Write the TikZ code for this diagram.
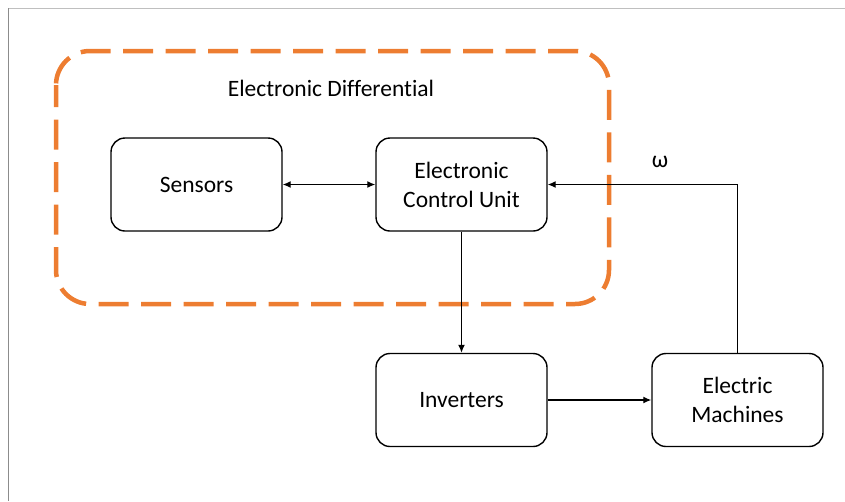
\documentclass[tikz,border=0pt]{standalone}
\usepackage{fontspec}
\setmainfont[Ligatures=NoCommon]{Carlito}
\usetikzlibrary{arrows.meta,positioning}
\definecolor{ora}{HTML}{ED7D31}
\definecolor{frm}{HTML}{BFBFBF}
\definecolor{frl}{HTML}{8C8C8C}

\begin{document}
\begin{tikzpicture}[x=1pt,y=-1pt,
  block/.style={draw,line width=1.4pt,rounded corners=14pt,minimum width=171pt,
    minimum height=93pt,align=center,font=\fontsize{23.5}{29}\selectfont},
  link/.style={line width=1.3pt,-{Latex[length=8pt,width=7pt]}}]
  \useasboundingbox (0,0) rectangle (845,501);
  % thin page frame
  \draw[frm,line width=0.8pt] (8,8) -- (845,8);
  \draw[frl,line width=0.6pt] (8,8) -- (8,501);
  % dashed region of the differential
  \draw[ora,line width=4.5pt,rounded corners=34pt,dash pattern=on 30pt off 12.5pt,
    dash phase=8pt] (56,51) rectangle (609,304);
  \node[font=\fontsize{23.5}{29}\selectfont] (title) at (331,88) {Electronic Differential};
  % blocks
  \node[block] (sens) at (196.5,184.5) {Sensors};
  \node[block] (ecu) at (461.5,184.5) {Electronic\\Control Unit};
  \node[block] (inv) at (461.5,400) {Inverters};
  \node[block] (em) at (737.5,400) {Electric\\Machines};
  % signal flow
  \draw[link,{Latex[length=8pt,width=7pt]}-{Latex[length=8pt,width=7pt]}] (sens) -- (ecu);
  \draw[link] (ecu) -- (inv);
  \draw[link] (inv) -- (em);
  \draw[link] (em.north) |- (ecu.east);
  \node[font=\fontsize{23.5}{29}\selectfont] (omega) at (660,162) {ω};
\end{tikzpicture}
\end{document}
